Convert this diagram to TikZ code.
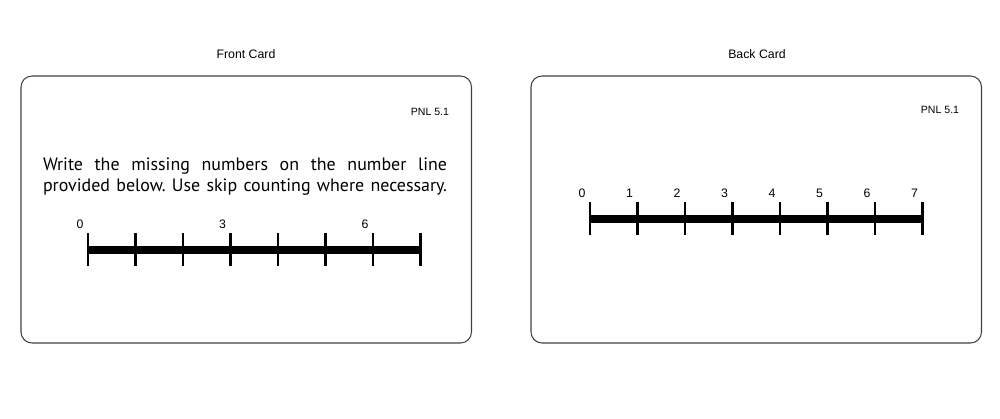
\documentclass[tikz,border=0pt]{standalone}
\usepackage{fontspec}
\setmainfont{Liberation Sans}
\newfontfamily\cardfont{PT Sans}
\usetikzlibrary{positioning}
\frenchspacing

\begin{document}
\begin{tikzpicture}[
        card/.style={draw=black!75, line width=0.6pt, rounded corners=0.22cm},
        title/.style={font=\fontsize{7}{8}\selectfont},
        code/.style={font=\fontsize{6}{7}\selectfont},
        numlabel/.style={font=\fontsize{7}{8}\selectfont},
        bar/.style={line width=4.5pt},
        tickmark/.style={line width=1.4pt}
    ]
        \useasboundingbox (0,0) rectangle (20,8.38);

        % Cards
        \draw[card] (0.42,1.52) rectangle (9.43,6.86);
        \draw[card] (10.62,1.52) rectangle (19.63,6.86);

        % Titles
        \node[title] (fronttitle) at (4.92,7.30) {Front Card};
        \node[title] (backtitle) at (15.14,7.30) {Back Card};
        \node[code] (frontcode) at (8.6,6.14) {PNL 5.1};
        \node[code] (backcode) at (18.8,6.18) {PNL 5.1};

        % Question
        \node[font=\cardfont\fontsize{10.2}{12}\selectfont, align=center, inner sep=0pt] (question) at (4.9,4.85)
            {\makebox[8.08cm][s]{Write the missing numbers on the number line}\\
             \makebox[8.08cm][s]{provided below. Use skip counting where necessary.}};

        % Front number line
        \coordinate (fstart) at (1.76,3.38);
        \coordinate (fend) at (8.41,3.38);
        \draw[bar] (fstart) -- (fend);
        \foreach \i in {0,...,7}
            \draw[tickmark] ([xshift=\i*0.95cm]fstart) ++(0,0.33) -- ++(0,-0.66);
        \foreach \i in {0,3,6}
            \node[numlabel] (f\i) at ([xshift=\i*0.95cm-0.16cm, yshift=0.52cm]fstart) {\i};

        % Back number line
        \coordinate (bstart) at (11.8,4.0);
        \coordinate (bend) at (18.45,4.0);
        \draw[bar] (bstart) -- (bend);
        \foreach \i in {0,...,7} {
            \draw[tickmark] ([xshift=\i*0.95cm]bstart) ++(0,0.33) -- ++(0,-0.66);
            \node[numlabel] (b\i) at ([xshift=\i*0.95cm-0.16cm, yshift=0.52cm]bstart) {\i};
        }

    \end{tikzpicture}
\end{document}
